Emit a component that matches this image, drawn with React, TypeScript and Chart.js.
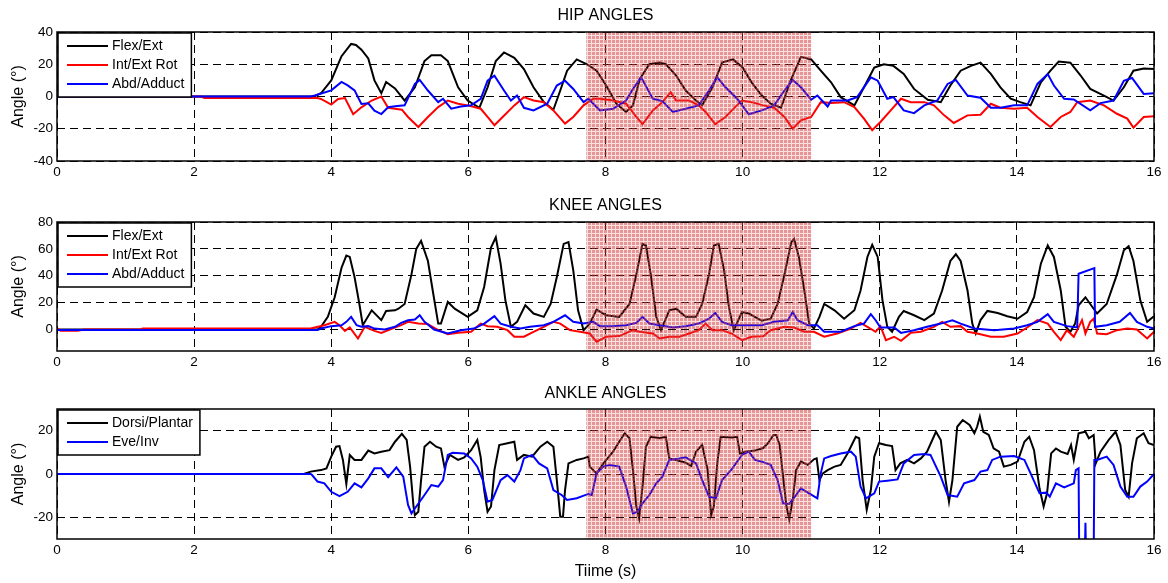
import React, { useEffect, useRef } from 'react';
import { Chart, registerables } from 'chart.js';

Chart.register(...registerables);

type Pt = [number, number];

const xTicks = [0, 2, 4, 6, 8, 10, 12, 14, 16];
const hipYTicks = [-40, -20, 0, 20, 40];
const kneeYTicks = [0, 20, 40, 60, 80];
const ankleYTicks = [-20, 0, 20];
const shadedSpan = [7.72, 11.0];

const hipLabels = ['Flex/Ext', 'Int/Ext Rot', 'Abd/Adduct'];
const ankleLabels = ['Dorsi/Plantar', 'Eve/Inv'];
const titles = ['HIP ANGLES', 'KNEE ANGLES', 'ANKLE ANGLES'];
const yAxisTitle = 'Angle (°)';
const xAxisTitle = 'Tiime (s)';

const hipFlex: Pt[] = [[0,0],[3.75,0],[3.85,2],[4.0,10],[4.15,25],[4.29,32.6],[4.36,32],[4.44,29],[4.54,23.6],[4.63,10],[4.73,2],[4.8,9],[4.93,5],[5.07,-2.5],[5.22,5.7],[5.36,22],[5.46,25.6],[5.6,25.6],[5.7,22],[5.85,5.7],[5.99,-2.5],[6.16,-7],[6.28,5.7],[6.4,22],[6.52,27.3],[6.67,24],[6.81,17],[6.95,5.7],[7.1,-3.5],[7.24,-8.2],[7.34,3.7],[7.44,16],[7.58,23],[7.73,20],[7.87,16],[8.01,6.8],[8.16,-4.5],[8.3,-9.6],[8.4,-5.5],[8.5,10.9],[8.64,20],[8.79,21],[8.88,20],[9.03,13],[9.17,3.7],[9.32,-2.5],[9.41,-5.5],[9.56,5.7],[9.7,21],[9.86,23],[10.0,18],[10.13,8.8],[10.28,0.6],[10.41,-4.5],[10.56,-7],[10.7,9.8],[10.85,24.6],[11.0,23],[11.14,16],[11.29,8.8],[11.43,-0.4],[11.63,-5.5],[11.77,5.7],[11.92,18],[12.06,20],[12.2,19],[12.35,14],[12.5,4.7],[12.7,-2],[12.89,-3.5],[13.03,6.8],[13.18,16],[13.33,19],[13.47,21],[13.62,14],[13.76,5.7],[13.91,-1.4],[14.05,-3.5],[14.2,-5.5],[14.35,8.8],[14.49,16],[14.61,21.7],[14.78,21],[14.93,13],[15.07,4.7],[15.27,0.6],[15.41,-2.5],[15.56,5.7],[15.7,16],[15.85,17.4],[16,17]];
const hipRot: Pt[] = [[0,0],[2.1,0],[2.15,-1],[3.8,-1],[3.85,-1.5],[4.0,-5],[4.1,-1.5],[4.2,-1],[4.32,-11],[4.44,-6.7],[4.59,-2.5],[4.73,0],[4.83,-7],[5.03,-8.2],[5.12,-12.7],[5.27,-18.9],[5.41,-12.7],[5.56,-6.6],[5.7,-2.5],[5.85,-4.5],[5.99,-5.5],[6.18,-7.6],[6.28,-12.7],[6.38,-17.8],[6.5,-12.7],[6.67,-5.5],[6.81,-0.4],[6.95,-2.5],[7.1,-3.5],[7.24,-8.6],[7.41,-16.8],[7.53,-12.7],[7.68,-5.5],[7.82,-1.4],[7.92,-1.4],[8.11,-2.5],[8.3,-4.5],[8.45,-12.7],[8.54,-17.2],[8.69,-8.6],[8.83,-3.5],[8.95,2.7],[9.03,-2.5],[9.22,-2.5],[9.36,-5.5],[9.46,-9.6],[9.6,-17.2],[9.75,-12.7],[9.89,-6.6],[9.99,-2.5],[10.13,-3.5],[10.3,-5.5],[10.46,-7],[10.61,-12.7],[10.73,-19.9],[10.85,-14.8],[11.0,-12.7],[11.14,-3.5],[11.29,-4.1],[11.48,-3.5],[11.63,-6.6],[11.77,-13.7],[11.89,-20.9],[12.01,-15.8],[12.16,-8.6],[12.31,-1.4],[12.45,-3.5],[12.65,-3.5],[12.79,-5.5],[12.94,-11.7],[13.08,-16.4],[13.28,-11.7],[13.47,-11.3],[13.62,-4.5],[13.76,-7],[13.96,-7.6],[14.15,-7],[14.3,-12.7],[14.49,-18.9],[14.64,-12.7],[14.78,-9.6],[14.88,-3.5],[15.07,-2.5],[15.27,-5.5],[15.46,-10.7],[15.61,-13.7],[15.7,-19.3],[15.85,-12.7],[16,-12.3]];
const hipAbd: Pt[] = [[0,0],[3.7,0],[3.76,0.6],[4.0,3.8],[4.15,9],[4.24,6.9],[4.34,3.8],[4.44,-4.6],[4.54,-4.2],[4.63,-8.8],[4.73,-10.9],[4.83,-6.7],[4.93,-6],[5.07,-5.5],[5.22,7.8],[5.29,10.3],[5.41,3.7],[5.56,-3.5],[5.63,-1.4],[5.75,-7.6],[5.89,-6.2],[6.04,-5.5],[6.18,-1.4],[6.28,9.8],[6.38,12.9],[6.52,3.7],[6.62,-2.5],[6.71,0.6],[6.81,-7],[6.95,-8.6],[7.15,-4.5],[7.29,6.8],[7.41,9.8],[7.53,4.7],[7.68,-3.5],[7.75,-1.4],[7.92,-8.6],[8.11,-7.6],[8.3,-2.5],[8.4,4.7],[8.52,11.9],[8.69,-1.4],[8.83,-2.9],[8.98,-9.6],[9.17,-7.6],[9.36,-5.5],[9.51,3.7],[9.63,11.9],[9.75,5.7],[9.92,-1.4],[10.09,-11],[10.28,-8.6],[10.46,-5.5],[10.61,3.7],[10.73,10.3],[10.85,5.7],[11.0,-2],[11.09,0.6],[11.24,-6.2],[11.29,-2.5],[11.53,-2.5],[11.67,-0.4],[11.87,11.9],[11.97,9.8],[12.11,-1.4],[12.2,-0.4],[12.35,-8.6],[12.5,-10.3],[12.65,-5.5],[12.84,-2.5],[12.99,7.8],[13.11,10.3],[13.28,0.6],[13.47,-0.8],[13.62,-7],[13.76,-7],[13.96,-5.5],[14.15,-5.5],[14.3,7.8],[14.45,13.9],[14.54,6.8],[14.69,-1.4],[14.83,-1.8],[15.07,-8.6],[15.22,-4.1],[15.41,-2.5],[15.56,9.8],[15.68,11.5],[15.85,1.6],[16,2]];

const kneeFlex: Pt[] = [[0,0],[3.8,0],[3.85,2],[3.95,9.4],[4.05,24],[4.15,46],[4.22,55],[4.27,54],[4.34,39],[4.41,19],[4.46,3.2],[4.59,14.3],[4.73,7],[4.8,13.8],[4.93,14.3],[4.98,15.5],[5.07,19],[5.17,41],[5.24,60],[5.31,66],[5.41,51],[5.48,29],[5.56,4.4],[5.6,4.4],[5.7,20.5],[5.8,15.5],[5.99,9.4],[6.13,14.3],[6.23,31.6],[6.33,61],[6.4,68.6],[6.47,49],[6.54,21.7],[6.62,2],[6.71,5.7],[6.83,18],[6.95,11.9],[7.1,9.4],[7.2,19],[7.29,39],[7.39,63.7],[7.46,65],[7.53,44],[7.6,14.3],[7.68,-0.5],[7.77,4.4],[7.87,14.8],[8.01,10.6],[8.2,9.4],[8.35,19],[8.45,41],[8.54,63.7],[8.59,62.5],[8.66,41],[8.74,9.4],[8.81,-0.5],[8.93,14.3],[9.03,15.5],[9.17,9.4],[9.32,9.4],[9.41,19],[9.51,41],[9.58,62.5],[9.65,63.7],[9.73,44],[9.8,16.8],[9.87,-0.5],[9.99,13],[10.09,11.9],[10.28,6.5],[10.41,8],[10.51,19],[10.61,41],[10.71,65],[10.75,67.4],[10.82,54],[10.9,29],[10.97,4.4],[11.04,0.7],[11.12,9.4],[11.19,19],[11.34,14.3],[11.48,8],[11.63,14.3],[11.72,29],[11.82,54],[11.89,63],[11.97,54],[12.04,21.7],[12.11,2],[12.18,-1.7],[12.28,9.4],[12.35,13.8],[12.5,10.6],[12.65,7],[12.79,11.9],[12.91,29],[13.03,51],[13.11,56],[13.18,51],[13.28,29],[13.35,4.4],[13.4,-3],[13.47,7],[13.57,13.8],[13.72,12.3],[13.86,9.9],[14.01,8],[14.15,13],[14.25,24],[14.35,49],[14.45,62.5],[14.54,54],[14.64,29],[14.71,2],[14.78,-1.7],[14.85,4.4],[14.9,18],[15.0,24],[15.07,19],[15.17,11.9],[15.31,19],[15.46,41],[15.56,59],[15.63,62],[15.7,51],[15.8,21.7],[15.9,5.7],[16,9.9]];
const kneeRot: Pt[] = [[0,1],[0.05,-1],[0.3,-1],[0.4,0],[1.22,0],[1.25,0.8],[3.7,0.8],[3.76,1.5],[3.9,3.2],[4.05,5.7],[4.12,3.2],[4.2,-1],[4.27,1.5],[4.39,-6.7],[4.49,2],[4.63,-1],[4.73,-2.5],[4.88,0.5],[5.02,3.2],[5.12,5.7],[5.27,4.4],[5.41,4],[5.56,-0.5],[5.7,-3.5],[5.85,-2.5],[6.04,-1.7],[6.18,4.4],[6.28,2.5],[6.42,2],[6.57,-0.5],[6.67,-5.4],[6.81,-5.4],[6.95,-1.7],[7.1,2],[7.24,5.7],[7.34,4.4],[7.48,-0.5],[7.63,-1.7],[7.77,-3],[7.87,-9.1],[8.01,-5.4],[8.2,-4.9],[8.4,-0.5],[8.5,-1.7],[8.69,-3],[8.79,-6.7],[8.93,-5.4],[9.08,-5.4],[9.22,-3],[9.36,-0.5],[9.46,4.4],[9.56,-0.5],[9.7,-0.5],[9.84,-3],[9.99,-7.9],[10.13,-5.4],[10.3,-5],[10.41,-0.5],[10.61,2],[10.75,1.5],[10.9,-1.7],[11.04,-1.7],[11.19,-5.4],[11.38,-3],[11.58,0.7],[11.72,4.9],[11.82,2],[11.94,-1.7],[12.01,2.5],[12.09,-7.9],[12.21,-5.4],[12.31,-8.4],[12.45,-2.5],[12.6,-1.7],[12.79,2],[12.91,5.7],[13.03,2],[13.18,2.5],[13.28,-1.7],[13.42,-3],[13.62,-5.4],[13.81,-5.4],[14.01,-3],[14.15,1.5],[14.3,7],[14.45,4.4],[14.54,-1.7],[14.64,-7.9],[14.73,-0.5],[14.83,-5.4],[14.88,-0.5],[14.95,7],[15.0,-3],[15.07,5.7],[15.12,8],[15.17,-3],[15.31,-3.5],[15.46,-0.5],[15.61,0.7],[15.75,0],[15.9,-6.7],[16,-1.7]];
const kneeAbd: Pt[] = [[0,-0.4],[3.8,-0.4],[3.85,0.7],[4.0,2.5],[4.15,3.2],[4.22,5.7],[4.29,9.4],[4.37,3.2],[4.44,2],[4.54,2.5],[4.63,0.7],[4.78,0],[4.93,2],[5.02,4.9],[5.12,6.9],[5.22,7.4],[5.29,10.6],[5.36,5.7],[5.5,0],[5.7,-3],[5.89,-0.5],[6.08,0.7],[6.23,4.4],[6.38,9.9],[6.47,4.4],[6.62,2],[6.76,0.7],[6.9,2],[7.1,3.2],[7.24,5.7],[7.41,10.6],[7.53,5.7],[7.68,4.4],[7.82,5.7],[7.92,2.5],[8.11,2.5],[8.3,3.2],[8.45,4.9],[8.54,9.4],[8.64,4.4],[8.79,3.2],[8.98,1.5],[9.17,2.5],[9.36,4.4],[9.51,8],[9.6,12.3],[9.7,5.7],[9.84,3.2],[10.04,3.2],[10.28,3.2],[10.46,5.7],[10.66,6.9],[10.73,13],[10.8,6.9],[10.95,3.2],[11.09,3.2],[11.19,-1.7],[11.43,-1.7],[11.63,2.5],[11.77,4.4],[11.87,11.4],[11.94,6.9],[12.01,1.5],[12.21,1.5],[12.31,-2.5],[12.5,-0.5],[12.69,2],[12.89,4.4],[13.06,6.9],[13.18,4.4],[13.38,0.7],[13.67,-0.5],[13.96,0.7],[14.15,3.2],[14.3,5.7],[14.45,11.4],[14.54,5.7],[14.73,2.5],[14.88,1.5],[14.9,41.5],[15.13,45.7],[15.14,2],[15.31,3.2],[15.5,5.7],[15.65,12.3],[15.75,5.7],[15.9,2],[16,0.7]];

const ankleDorsi: Pt[] = [[0,0],[3.6,0],[3.7,1.1],[3.85,1.8],[3.93,2.6],[4.0,8],[4.07,12.6],[4.12,12.9],[4.17,6.5],[4.22,-4.6],[4.27,8.8],[4.34,6.5],[4.44,6.5],[4.54,10.8],[4.63,9.5],[4.73,10.3],[4.85,11],[4.93,14.9],[5.03,18.5],[5.1,15.7],[5.15,3.4],[5.2,-15],[5.22,-19],[5.27,-17.4],[5.31,-2.8],[5.36,12.6],[5.44,14.9],[5.53,12.6],[5.6,11.8],[5.65,3.4],[5.73,8.8],[5.85,6.5],[5.94,7.7],[6.04,11],[6.13,15.7],[6.18,7.7],[6.23,-7.4],[6.28,-17.4],[6.33,-15],[6.38,1.8],[6.45,13.4],[6.57,14.2],[6.67,14.9],[6.71,6.5],[6.81,8.8],[6.93,8],[7.05,12.6],[7.15,14.9],[7.24,12.6],[7.29,-2.8],[7.34,-19.7],[7.38,-19.7],[7.41,-7.4],[7.46,4.9],[7.58,6.5],[7.68,7.2],[7.75,8],[7.77,3.4],[7.87,0.3],[7.97,4.9],[8.11,10.3],[8.2,14.9],[8.28,18.8],[8.35,16.5],[8.4,1.8],[8.45,-15],[8.49,-20.5],[8.54,-5.8],[8.59,12.6],[8.66,17.2],[8.79,16.5],[8.88,17.2],[8.93,7.2],[9.03,6.5],[9.17,5.2],[9.25,3.7],[9.32,10.3],[9.41,13.4],[9.49,1.8],[9.54,-19],[9.58,-15],[9.63,4.9],[9.68,17.2],[9.84,16.9],[9.92,17.2],[9.96,9.5],[10.04,10.3],[10.18,10.8],[10.3,12],[10.37,14.2],[10.45,18],[10.49,18],[10.54,13.4],[10.59,-1.2],[10.64,-15],[10.68,-20.9],[10.73,-12],[10.78,1.8],[10.85,5.7],[10.95,4.2],[11.04,6.8],[11.08,7.2],[11.12,-2.8],[11.17,0.3],[11.24,1.8],[11.34,3.4],[11.43,4.2],[11.53,9.5],[11.65,17.2],[11.7,16.5],[11.75,-2.8],[11.81,-16.6],[11.87,-7.4],[11.92,8],[11.99,14.2],[12.09,13.4],[12.18,12.9],[12.23,1.8],[12.3,4.9],[12.4,6.5],[12.5,4.9],[12.6,7.2],[12.69,10.3],[12.82,19.5],[12.89,15.7],[12.96,-2.8],[13.01,-12.8],[13.06,-2.8],[13.13,21.8],[13.21,24.9],[13.31,22.6],[13.38,18.8],[13.42,21.8],[13.46,26.5],[13.51,19.5],[13.59,18],[13.66,11.8],[13.74,10.3],[13.81,3.4],[13.91,4.2],[14.01,5.7],[14.11,14.9],[14.18,17.2],[14.25,11],[14.33,-6.6],[14.39,-15],[14.44,-8.9],[14.5,9.5],[14.57,11.8],[14.64,10.3],[14.74,9.2],[14.79,13.4],[14.83,6.5],[14.9,18.8],[15.0,19.5],[15.05,16.5],[15.12,18],[15.15,4.9],[15.22,10.3],[15.34,15.7],[15.44,19.5],[15.51,13.4],[15.58,-7.4],[15.63,-10.5],[15.68,4.9],[15.75,16.5],[15.85,18.8],[15.92,14.2],[16,13.4]];
const ankleEve: Pt[] = [[0,0],[3.7,0],[3.72,-0.5],[3.8,-3.5],[3.9,-4.3],[4.0,-8.2],[4.12,-10.2],[4.24,-8.2],[4.34,-4.3],[4.44,-6.2],[4.54,-2],[4.63,2.6],[4.73,2.6],[4.83,-1.5],[4.95,3.1],[5.05,-1.2],[5.12,-14.3],[5.17,-18.2],[5.24,-15],[5.36,-9.7],[5.46,-5.1],[5.56,-5.8],[5.63,-2.8],[5.7,8.8],[5.77,9.8],[5.94,9.5],[6.04,7.2],[6.13,3.4],[6.21,-2.8],[6.28,-12.8],[6.35,-12],[6.47,-2.8],[6.57,-0.5],[6.67,-3.5],[6.76,1.8],[6.81,7.2],[6.93,8.8],[7.03,4.9],[7.15,2.6],[7.24,-7.4],[7.36,-9.7],[7.44,-12],[7.58,-11.2],[7.75,-9.2],[7.8,-9.7],[7.87,0.3],[7.97,3.4],[8.06,4.2],[8.2,3.4],[8.3,-5.8],[8.4,-18.2],[8.47,-17.4],[8.54,-13.5],[8.64,-9.7],[8.74,-4.3],[8.83,-1.2],[8.93,6.5],[9.08,7.2],[9.17,7.7],[9.32,4.9],[9.41,-2.8],[9.51,-10.5],[9.61,-11.2],[9.7,-2.8],[9.84,2.1],[9.99,8.8],[10.09,10.3],[10.18,6.5],[10.3,5.5],[10.41,4.2],[10.51,-2.8],[10.59,-13.5],[10.68,-13.8],[10.78,-9.7],[10.85,-6.6],[10.97,-8.9],[11.09,-11.2],[11.14,0.3],[11.19,7.2],[11.29,8.3],[11.43,9.5],[11.58,10.3],[11.65,8],[11.72,-5.8],[11.8,-11.2],[11.92,-8.9],[11.99,-3.5],[12.11,-3.1],[12.26,-2.5],[12.35,4.9],[12.5,8.8],[12.65,9.2],[12.74,8.8],[12.89,-1.2],[12.99,-9.7],[13.13,-10.5],[13.23,-4.3],[13.38,-2.8],[13.47,1.1],[13.57,1.8],[13.64,6.5],[13.76,8],[13.96,8.3],[14.11,6.5],[14.2,0.3],[14.33,-8.9],[14.43,-8.6],[14.48,-10.5],[14.57,-4.3],[14.69,-6.2],[14.83,-4.3],[14.86,1.8],[14.9,2.6],[14.91,-40],[14.99,-40],[15.0,-22.5],[15.01,-40],[15.12,-40],[15.13,6.5],[15.17,6.5],[15.31,8],[15.41,4.2],[15.51,-5.8],[15.61,-10.5],[15.7,-10.5],[15.8,-5.8],[15.9,-3.5],[16,0]];

const seriesColors = ['#000000', '#ff0000', '#0000ff'];

const FONT = '"Liberation Sans", Arial, Helvetica, sans-serif';

type Series = { label: string; color: string; data: Pt[] };

type PanelProps = {
  top: number;
  height: number;
  plotTop: number;
  xAxisH: number;
  yMin: number;
  yMax: number;
  yTicks: number[];
  series: Series[];
  title: string;
  xTitle?: string;
};

function makePattern(ctx: CanvasRenderingContext2D) {
  const c = document.createElement('canvas');
  c.width = 4;
  c.height = 4;
  const p = c.getContext('2d')!;
  p.fillStyle = 'rgba(210,60,60,0.55)';
  p.fillRect(0, 0, 3, 3);
  p.fillStyle = 'rgba(210,60,60,0.16)';
  p.fillRect(3, 0, 1, 4);
  p.fillRect(0, 3, 3, 1);
  return ctx.createPattern(c, 'repeat');
}

const decorPlugin = {
  id: 'decor',
  afterDatasetsDraw(chart: any) {
    const { ctx, chartArea: a, scales } = chart;
    const x = scales.x;
    const x0 = x.getPixelForValue(shadedSpan[0]);
    const x1 = x.getPixelForValue(shadedSpan[1]);
    ctx.save();
    ctx.fillStyle = makePattern(ctx);
    ctx.fillRect(x0, a.top, x1 - x0, a.bottom - a.top);
    ctx.restore();
  },
  afterDraw(chart: any, _args: any, opts: any) {
    const { ctx, chartArea: a } = chart;
    ctx.save();
    ctx.strokeStyle = '#000';
    ctx.lineWidth = 1.5;
    ctx.setLineDash([]);
    ctx.strokeRect(a.left, a.top, a.right - a.left, a.bottom - a.top);
    ctx.fillStyle = '#000';
    ctx.font = `16px ${FONT}`;
    ctx.textAlign = 'center';
    ctx.textBaseline = 'middle';
    ctx.fillText(opts.title, (a.left + a.right) / 2, opts.titleY);
    const ds = chart.data.datasets;
    ctx.font = `14px ${FONT}`;
    let maxW = 0;
    ds.forEach((d: any) => {
      maxW = Math.max(maxW, ctx.measureText(d.label).width);
    });
    const lx = a.left + 1;
    const ly = a.top + 1;
    const w = 55 + maxW + 6;
    const h = 7 + ds.length * 19;
    ctx.fillStyle = '#fff';
    ctx.fillRect(lx, ly, w, h);
    ctx.strokeStyle = '#000';
    ctx.lineWidth = 1.5;
    ctx.strokeRect(lx, ly, w, h);
    ds.forEach((d: any, i: number) => {
      const yy = ly + 13 + i * 19;
      ctx.strokeStyle = d.borderColor;
      ctx.lineWidth = 2;
      ctx.beginPath();
      ctx.moveTo(lx + 9, yy);
      ctx.lineTo(lx + 50, yy);
      ctx.stroke();
      ctx.fillStyle = '#000';
      ctx.textAlign = 'left';
      ctx.textBaseline = 'middle';
      ctx.fillText(d.label, lx + 54, yy);
    });
    ctx.restore();
  },
};

function Panel(props: PanelProps) {
  const ref = useRef<HTMLCanvasElement>(null);
  useEffect(() => {
    const { plotTop, xAxisH, yMin, yMax, yTicks, series, title, xTitle } = props;
    const chart = new Chart(ref.current!, {
      type: 'line',
      data: {
        datasets: series.map((s, i) => ({
          label: s.label,
          data: s.data.map(([x, y]) => ({ x, y })),
          borderColor: s.color,
          backgroundColor: s.color,
          borderWidth: 2,
          pointRadius: 0,
          tension: 0,
          fill: false,
          order: series.length - i,
        })),
      },
      options: {
        responsive: false,
        animation: false,
        devicePixelRatio: 1,
        events: [],
        layout: { padding: { top: plotTop, right: 14, bottom: 0, left: 0 } },
        plugins: {
          legend: { display: false },
          tooltip: { enabled: false },
          title: { display: false },
          decor: { title, titleY: 15.5 },
        } as any,
        scales: {
          x: {
            type: 'linear',
            min: 0,
            max: 16,
            afterBuildTicks: (s: any) => {
              s.ticks = xTicks.map((v) => ({ value: v }));
            },
            afterFit: (s: any) => {
              s.height = xAxisH;
            },
            ticks: {
              color: '#000',
              font: { family: FONT, size: 13.5 },
              padding: 3,
              maxRotation: 0,
              autoSkip: false,
              callback: (v: any) => String(v),
            },
            grid: { color: '#000', lineWidth: 1, drawTicks: false },
            border: { display: false, dash: [8, 5] },
            title: xTitle
              ? {
                  display: true,
                  text: xTitle,
                  color: '#000',
                  font: { family: FONT, size: 16 },
                  padding: { top: 0, bottom: 2 },
                }
              : { display: false },
          },
          y: {
            type: 'linear',
            min: yMin,
            max: yMax,
            afterBuildTicks: (s: any) => {
              s.ticks = yTicks.map((v) => ({ value: v }));
            },
            afterFit: (s: any) => {
              s.width = 57;
            },
            ticks: {
              color: '#000',
              font: { family: FONT, size: 13.5 },
              padding: 4,
              callback: (v: any) => String(v),
            },
            grid: { color: '#000', lineWidth: 1, drawTicks: false },
            border: { display: false, dash: [8, 5] },
            title: {
              display: true,
              text: yAxisTitle,
              color: '#000',
              font: { family: FONT, size: 16 },
              padding: { top: 9, bottom: 0 },
            },
          },
        },
      },
      plugins: [decorPlugin as any],
    });
    return () => chart.destroy();
  }, []);
  return (
    <canvas
      ref={ref}
      width={1168}
      height={props.height}
      style={{ position: 'absolute', left: 0, top: props.top, width: 1168, height: props.height }}
    />
  );
}

export default function App() {
  const hipSeries: Series[] = [
    { label: hipLabels[0], color: seriesColors[0], data: hipFlex },
    { label: hipLabels[1], color: seriesColors[1], data: hipRot },
    { label: hipLabels[2], color: seriesColors[2], data: hipAbd },
  ];
  const kneeSeries: Series[] = [
    { label: hipLabels[0], color: seriesColors[0], data: kneeFlex },
    { label: hipLabels[1], color: seriesColors[1], data: kneeRot },
    { label: hipLabels[2], color: seriesColors[2], data: kneeAbd },
  ];
  const ankleSeries: Series[] = [
    { label: ankleLabels[0], color: seriesColors[0], data: ankleDorsi },
    { label: ankleLabels[1], color: seriesColors[2], data: ankleEve },
  ];
  return (
    <div style={{ position: 'absolute', left: 0, top: 0, width: 1168, height: 583, background: '#fff', overflow: 'hidden' }}>
      <Panel top={0} height={190} plotTop={32} xAxisH={29} yMin={-40} yMax={40} yTicks={hipYTicks} series={hipSeries} title={titles[0]} />
      <Panel top={190} height={188} plotTop={32} xAxisH={27} yMin={-16} yMax={80} yTicks={kneeYTicks} series={kneeSeries} title={titles[1]} />
      <Panel top={378} height={205} plotTop={31} xAxisH={44} yMin={-30} yMax={30} yTicks={ankleYTicks} series={ankleSeries} title={titles[2]} xTitle={xAxisTitle} />
    </div>
  );
}
